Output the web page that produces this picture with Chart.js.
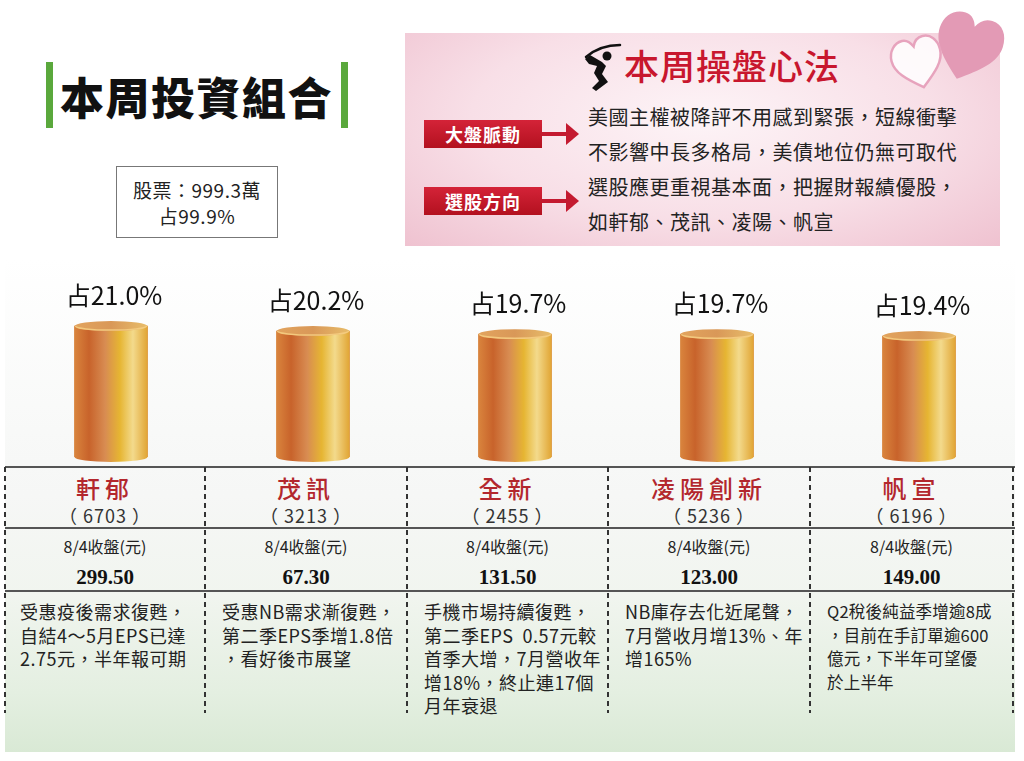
<!DOCTYPE html>
<html lang="zh-Hant">
<head>
<meta charset="utf-8">
<title>本周投資組合</title>
<script src="https://cdn.jsdelivr.net/npm/chart.js@4.4.1/dist/chart.umd.min.js"></script>
<style>
  html, body { margin: 0; padding: 0; background: #fff; }
  body {
    width: 1024px; height: 761px; position: relative; overflow: hidden;
    font-family: "Noto Sans CJK TC", "Noto Sans", sans-serif; color: #222;
  }
  .abs { position: absolute; }

  /* header left */
  .title { left: 60px; top: 66px; font-size: 44px; font-weight: 900; letter-spacing: 1.5px; line-height: 60px; color: #111; }
  .gbar { width: 7px; height: 66px; top: 62px; background: #5aa83c; }
  .cash { left: 116px; top: 166px; width: 162px; height: 72px; border: 1px solid #777; text-align: center;
          font-size: 19px; line-height: 26px; padding-top: 10px; box-sizing: border-box; color: #222; letter-spacing: 0.5px; }

  /* header right */
  .panel { left: 405px; top: 33px; width: 595px; height: 213px;
           background: radial-gradient(ellipse at 50% 40%, #fdf4f7 0%, #f8dfe7 55%, #efc2d0 100%); }
  .ptitle { left: 624px; top: 43px; font-size: 35px; line-height: 44px; color: #c8172e; font-weight: 500; letter-spacing: 1px; }
  .tag { left: 424px; width: 118px; height: 28px; line-height: 28px; text-align: center; color: #fff;
         font-weight: 700; font-size: 18px; letter-spacing: 1px;
         background: linear-gradient(to bottom, #d42338, #b3111f); }
  .arrow { left: 542px; width: 38px; height: 24px; }
  .ptext { left: 588px; font-size: 20px; line-height: 35px; color: #222; letter-spacing: 0.5px; }

  /* lower area */
  .lower { left: 5px; top: 258px; width: 1010px; height: 494px;
           background: linear-gradient(to bottom, #ffffff 0%, #f8f9f8 35%, #f6f7f6 48%, #f1f5ef 68%, #e4efe1 88%, #d9e9d5 100%); }
  #chartBox { left: 10px; top: 270px; width: 1010px; height: 192px; }
  .hline { left: 5px; width: 1010px; height: 1.5px; background: #555; }
  .vdash { top: 467px; width: 2px; height: 246px;
           background: repeating-linear-gradient(to bottom, #333 0 5px, transparent 5px 9px); }
  .col { top: 467px; width: 202px; height: 280px; }
  .name { top: 6px; width: 100%; text-align: center; font-size: 24px; line-height: 30px; color: #b3272d; letter-spacing: 5px; font-weight: 500; }
  .code { top: 36px; width: 100%; text-align: center; font-size: 18px; line-height: 24px; color: #333; letter-spacing: 1px; }
  .lbl { top: 68px; width: 100%; text-align: center; font-size: 16px; line-height: 22px; color: #222; }
  .price { top: 97px; width: 100%; text-align: center; font-family: "Liberation Serif", "DejaVu Serif", serif; font-weight: 700; font-size: 21px; line-height: 26px; color: #111; }
  .note { top: 133px; left: 15px; font-size: 18px; line-height: 23.5px; color: #222; letter-spacing: 0.5px; white-space: nowrap; }
  .note.small { font-size: 16.5px; letter-spacing: 0.2px; }
</style>
</head>
<body>

<!-- header left -->
<div class="abs gbar" style="left:46px"></div>
<div class="abs title">本周投資組合</div>
<div class="abs gbar" style="left:341px"></div>
<div class="abs cash">股票：999.3萬<br>占99.9%</div>

<!-- header right -->
<div class="abs panel"></div>
<svg class="abs" style="left:880px;top:8px" width="130" height="90" viewBox="0 0 130 90">
  <g transform="translate(56,6) rotate(18 30 30)">
    <path d="M32 66 C12 50 0 38 0 22 C0 9 9 0 20 0 C27 0 31 5 33 11 C36 4 41 0 48 0 C59 0 66 9 66 22 C66 38 52 50 32 66Z" fill="#e39ab5"/>
  </g>
  <g transform="translate(12,30) rotate(-14 25 22)">
    <path d="M25 50 C10 38 0 29 0 17 C0 7 7 0 15 0 C20 0 23 4 25 8 C27 3 31 0 36 0 C44 0 50 7 50 17 C50 29 40 38 25 50Z" fill="rgba(255,255,255,0.85)" stroke="#e7a3bd" stroke-width="2.5"/>
  </g>
</svg>
<svg class="abs" style="left:582px;top:42px" width="42" height="50" viewBox="0 0 42 50">
  <path d="M4 15 Q18 3 38 3" stroke="#111" stroke-width="2.5" fill="none" stroke-linecap="round"/>
  <circle cx="25" cy="14" r="4.5" fill="#111"/>
  <path d="M3 17 L8 13 L20 20 L24 24 L20 32 L26 40 L14 49 L10 46 L17 39 L12 31 L15 24 L7 22 Z" fill="#111"/>
</svg>
<div class="abs ptitle">本周操盤心法</div>

<div class="abs tag" style="top:120px">大盤脈動</div>
<svg class="abs arrow" style="top:122px" viewBox="0 0 38 24"><rect x="0" y="10" width="26" height="4" fill="#c41a30"/><path d="M24 1 L37 12 L24 23Z" fill="#c41a30"/></svg>
<div class="abs tag" style="top:187px">選股方向</div>
<svg class="abs arrow" style="top:189px" viewBox="0 0 38 24"><rect x="0" y="10" width="26" height="4" fill="#c41a30"/><path d="M24 1 L37 12 L24 23Z" fill="#c41a30"/></svg>

<div class="abs ptext" style="top:99px">美國主權被降評不用感到緊張，短線衝擊<br>不影響中長多格局，美債地位仍無可取代<br>選股應更重視基本面，把握財報績優股，<br>如軒郁、茂訊、凌陽、帆宣</div>

<!-- lower area -->
<div class="abs lower"></div>
<div class="abs" id="chartBox"><canvas id="weights"></canvas></div>
<div id="table"></div>

<script>
// holdings
const stockNames = ['軒郁', '茂訊', '全新', '凌陽創新', '帆宣'];
const stockCodes = ['6703', '3213', '2455', '5236', '6196'];
const weights = [21.0, 20.2, 19.7, 19.7, 19.4];   // 占比 %
const closeLabel = '8/4收盤(元)';
const closePrices = ['299.50', '67.30', '131.50', '123.00', '149.00'];
const notes = [
  ['受惠疫後需求復甦，', '自結4～5月EPS已達', '2.75元，半年報可期'],
  ['受惠NB需求漸復甦，', '第二季EPS季增1.8倍', '，看好後市展望'],
  ['手機市場持續復甦，', '第二季EPS&nbsp;&nbsp;0.57元較', '首季大增，7月營收年', '增18%，終止連17個', '月年衰退'],
  ['NB庫存去化近尾聲，', '7月營收月增13%、年', '增165%'],
  ['Q2稅後純益季增逾8成', '，目前在手訂單逾600', '億元，下半年可望優', '於上半年']
];

// table under the bars
const colEdges = [5, 205, 407, 608, 810, 1013];
const table = document.getElementById('table');
let html = '';
[466, 527, 590].forEach(y => { html += `<div class="abs hline" style="top:${y}px"></div>`; });
colEdges.forEach(x => { html += `<div class="abs vdash" style="left:${x - 1}px"></div>`; });
stockNames.forEach((name, i) => {
  const left = colEdges[i], w = colEdges[i + 1] - colEdges[i];
  html += `<div class="abs col" style="left:${left}px;width:${w}px">
    <div class="abs name">${name}</div>
    <div class="abs code">（ ${stockCodes[i]} ）</div>
    <div class="abs lbl">${closeLabel}</div>
    <div class="abs price">${closePrices[i]}</div>
    <div class="abs note${i === 4 ? ' small' : ''}" style="left:${i === 0 ? 15 : 17}px">${notes[i].join('<br>')}</div>
  </div>`;
});
table.innerHTML = html;

// gold cylinders drawn on the bar elements
const cylinderPlugin = {
  id: 'cylinders',
  afterDatasetsDraw(chart) {
    const ctx = chart.ctx;
    const meta = chart.getDatasetMeta(0);
    meta.data.forEach((bar, i) => {
      const rx = bar.width / 2, ry = 5;
      const left = bar.x - rx, right = bar.x + rx;

      const body = ctx.createLinearGradient(left, 0, right, 0);
      body.addColorStop(0, '#d9843d');
      body.addColorStop(0.2, '#c8632b');
      body.addColorStop(0.42, '#d88c52');
      body.addColorStop(0.62, '#e6b532');
      body.addColorStop(0.8, '#f3da8c');
      body.addColorStop(1, '#e1a534');

      ctx.save();
      ctx.fillStyle = body;
      ctx.beginPath();
      ctx.moveTo(left, bar.y);
      ctx.lineTo(left, bar.base);
      ctx.ellipse(bar.x, bar.base, rx, ry, 0, Math.PI, 0, true);
      ctx.lineTo(right, bar.y);
      ctx.closePath();
      ctx.fill();

      // top cap
      const cap = ctx.createLinearGradient(left, 0, right, 0);
      cap.addColorStop(0, '#e2a45e');
      cap.addColorStop(0.5, '#d99858');
      cap.addColorStop(1, '#e8bd6a');
      ctx.fillStyle = cap;
      ctx.beginPath();
      ctx.ellipse(bar.x, bar.y, rx, ry, 0, 0, Math.PI * 2);
      ctx.fill();
      ctx.strokeStyle = 'rgba(245, 205, 130, 0.9)';
      ctx.lineWidth = 1.5;
      ctx.beginPath();
      ctx.ellipse(bar.x, bar.y, rx - 1, ry - 1, 0, 0, Math.PI);
      ctx.stroke();

      // share label
      ctx.fillStyle = '#111';
      ctx.font = '25px "Noto Sans CJK TC", sans-serif';
      ctx.textAlign = 'center';
      ctx.textBaseline = 'middle';
      ctx.fillText('占' + weights[i].toFixed(1) + '%', bar.x + 3, bar.y - 31);
      ctx.restore();
    });
  }
};

new Chart(document.getElementById('weights'), {
  type: 'bar',
  data: {
    labels: stockNames,
    datasets: [{
      data: weights,
      backgroundColor: '#d98a45',
      borderWidth: 0,
      barThickness: 73
    }]
  },
  options: {
    responsive: true,
    maintainAspectRatio: false,
    animation: false,
    layout: { padding: { top: 0, right: 0, bottom: 5, left: 0 } },
    scales: {
      x: { display: false },
      y: { display: false, min: 0, max: 30 }
    },
    plugins: {
      legend: { display: false },
      tooltip: { enabled: false }
    }
  },
  plugins: [cylinderPlugin]
});
</script>
</body>
</html>
